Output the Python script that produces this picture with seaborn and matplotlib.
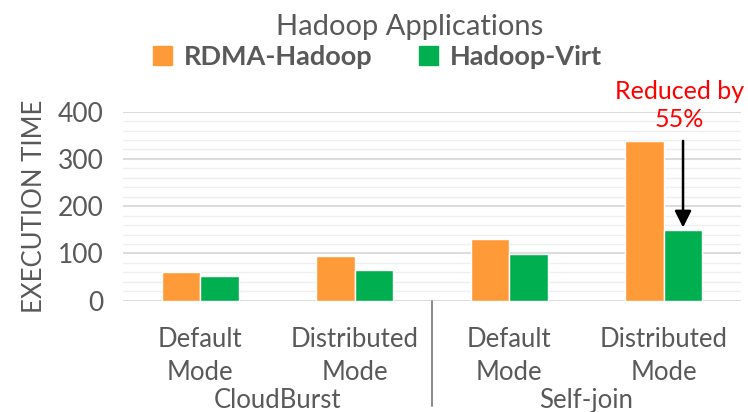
import matplotlib.pyplot as plt
import matplotlib.transforms as mtransforms
from matplotlib.patches import Patch
from matplotlib.ticker import MultipleLocator
import pandas as pd
import seaborn as sns

# data
workloads = ['CloudBurst', 'CloudBurst', 'Self-join', 'Self-join']
modes = ['Default\nMode', 'Distributed\nMode', 'Default\nMode', 'Distributed\nMode']
rdma_hadoop = [61, 95, 130, 337]
hadoop_virt = [52, 65, 99, 149]
series = ['RDMA-Hadoop', 'Hadoop-Virt']
colors = ['#FF9A38', '#00B050']

keys = [w + ' ' + m for w, m in zip(workloads, modes)]
df = pd.DataFrame({
    'case': keys * 2,
    'time': rdma_hadoop + hadoop_virt,
    'series': [series[0]] * 4 + [series[1]] * 4,
})

sns.set_theme(style='white')
plt.rcParams['font.family'] = ['Lato', 'DejaVu Sans']
txt = '#595959'

fig = plt.figure(figsize=(7.48, 4.12), dpi=100)
ax = fig.add_axes([0.1644, 0.27, 0.8262, 0.459])

sns.barplot(data=df, x='case', y='time', hue='series', order=keys,
            palette=colors, width=0.5, saturation=1, ax=ax, legend=False)

ax.set_ylim(0, 400)
ax.set_xlim(-0.5, 3.5)
ax.yaxis.set_major_locator(MultipleLocator(100))
ax.yaxis.set_minor_locator(MultipleLocator(20))
ax.grid(axis='y', which='major', color='#D9D9D9', lw=1.3)
ax.grid(axis='y', which='minor', color='#EFEFEF', lw=1)
ax.set_axisbelow(True)
for s in ax.spines.values():
    s.set_visible(False)

ax.set_xticks(range(4))
ax.set_xticklabels(modes, fontsize=18.5, color=txt, linespacing=1.4)
ax.tick_params(axis='x', length=0, pad=19)
ax.tick_params(axis='y', labelsize=19, labelcolor=txt, length=0, pad=14)
ax.set_xlabel('')
ax.set_ylabel('EXECUTION TIME', fontsize=18.5, color=txt, labelpad=8)

# workload group labels and separator
trans = mtransforms.blended_transform_factory(ax.transData, ax.transAxes)
for pos, name in [(0.5, 'CloudBurst'), (2.5, 'Self-join')]:
    ax.text(pos, -0.525, name, transform=trans, ha='center', va='center',
            fontsize=18.5, color=txt)
ax.plot([1.5, 1.5], [0, -0.555], transform=trans, color='#808080', lw=1.3,
        clip_on=False)

# annotation
ax.annotate('', xy=(3.125, 149), xytext=(3.125, 344),
            arrowprops=dict(arrowstyle='-|>', color='black', lw=1.8,
                            mutation_scale=25), annotation_clip=False)
ax.text(3.10, 413, 'Reduced by\n55%', ha='center', va='center', color='red',
        fontsize=18, linespacing=1.3, clip_on=False)

fig.text(0.548, 0.935, 'Hadoop Applications', ha='center', va='center',
         fontsize=21, color=txt)
handles = [Patch(color=c, label=l) for c, l in zip(colors, series)]
leg = fig.legend(handles=handles, loc='center', bbox_to_anchor=(0.505, 0.862),
                 ncol=2, frameon=False, handlelength=0.7, handleheight=0.7,
                 handletextpad=0.45, columnspacing=1.7,
                 prop={'weight': 'bold', 'size': 19.5})
for t in leg.get_texts():
    t.set_color(txt)

fig.savefig('out.png', dpi=100)
